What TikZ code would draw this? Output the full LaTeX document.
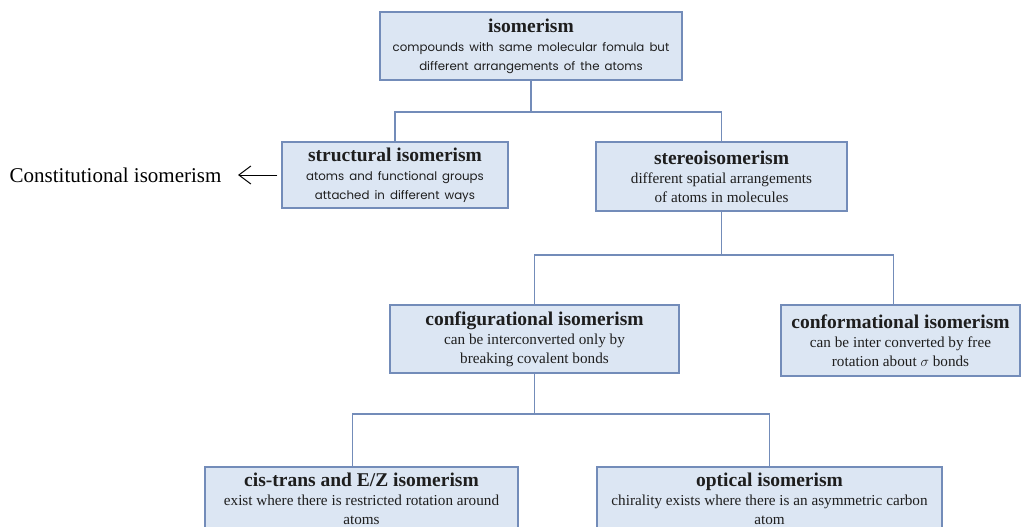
\documentclass[tikz,border=0pt]{standalone}
\usepackage{fontspec}
\setmainfont{Liberation Serif}
\newfontfamily\gothic{Poppins}[WordSpace=1.6]
\usetikzlibrary{arrows.meta}

\definecolor{boxfill}{RGB}{220,230,243}
\definecolor{boxline}{RGB}{115,140,185}
\definecolor{inktext}{RGB}{30,30,30}

\newcommand{\ttl}[1]{{\fontsize{19.5}{20}\selectfont\bfseries #1}}
\newcommand{\sgot}[1]{{\gothic\fontsize{11.8}{19}\selectfont #1}}

\tikzset{
    isobox/.style={draw=boxline, fill=boxfill, line width=1.5pt, align=center,
        inner sep=2pt, text=inktext, minimum height=68pt,
        font=\fontsize{15.2}{19}\selectfont},
    link/.style={draw=boxline, line width=1.6pt}
}

\begin{document}
\begin{tikzpicture}[x=1pt,y=-1pt]
    \useasboundingbox (0,0) rectangle (1025,527);
    \clip (0,0) rectangle (1025,527);

    % top level
    \node[isobox, minimum width=302pt] (iso) at (531,46)
        {\ttl{isomerism}\\ \sgot{compounds with same molecular fomula but}\\ \sgot{different arrangements of the atoms}};

    \node[isobox, minimum width=226pt, minimum height=66pt] (struct) at (395,175)
        {\ttl{structural isomerism}\\ \sgot{atoms and functional groups}\\ \sgot{attached in different ways}};
    \node[isobox, minimum width=251pt, minimum height=69pt] (stereo) at (721.5,176.5)
        {\ttl{stereoisomerism}\\ different spatial arrangements\\ of atoms in molecules};

    \node[anchor=base east, font=\fontsize{21}{24}\selectfont] (const) at (225,182) {Constitutional isomerism};
    \draw[-{Straight Barb[length=12pt,width=18pt]}, line width=1pt, shorten <=4pt, shorten >=13pt]
        (struct.west) -- (struct.west -| const.east);

    % stereo branch
    \node[isobox, minimum width=289pt] (config) at (534.5,339)
        {\ttl{configurational isomerism}\\ can be interconverted only by\\ breaking covalent bonds};
    \node[isobox, minimum width=239pt, minimum height=71pt] (conf) at (900.5,340.5)
        {\ttl{conformational isomerism}\\ can be inter converted by free\\ rotation about $\sigma$ bonds};

    % configurational branch
    \node[isobox, minimum width=313pt, minimum height=64pt, anchor=north] (cistrans) at (361.5,466)
        {\ttl{cis-trans and E/Z isomerism}\\ exist where there is restricted rotation around\\ atoms};
    \node[isobox, minimum width=345pt, minimum height=64pt, anchor=north] (optical) at (769.5,466)
        {\ttl{optical isomerism}\\ chirality exists where there is an asymmetric carbon\\ atom};

    % connectors
    \draw[link] (iso.south) -- ++(0,31) coordinate (j1);
    \draw[link] (struct.north) |- (j1) -| (stereo.north);
    \draw[link] (stereo.south) -- ++(0,43) coordinate (j2);
    \draw[link] (config.north) |- (j2) -| ([xshift=-7pt]conf.north);
    \draw[link] (config.south) -- ++(0,40) coordinate (j3);
    \draw[link] ([xshift=-9pt]cistrans.north) |- (j3) -| (optical.north);
\end{tikzpicture}
\end{document}
